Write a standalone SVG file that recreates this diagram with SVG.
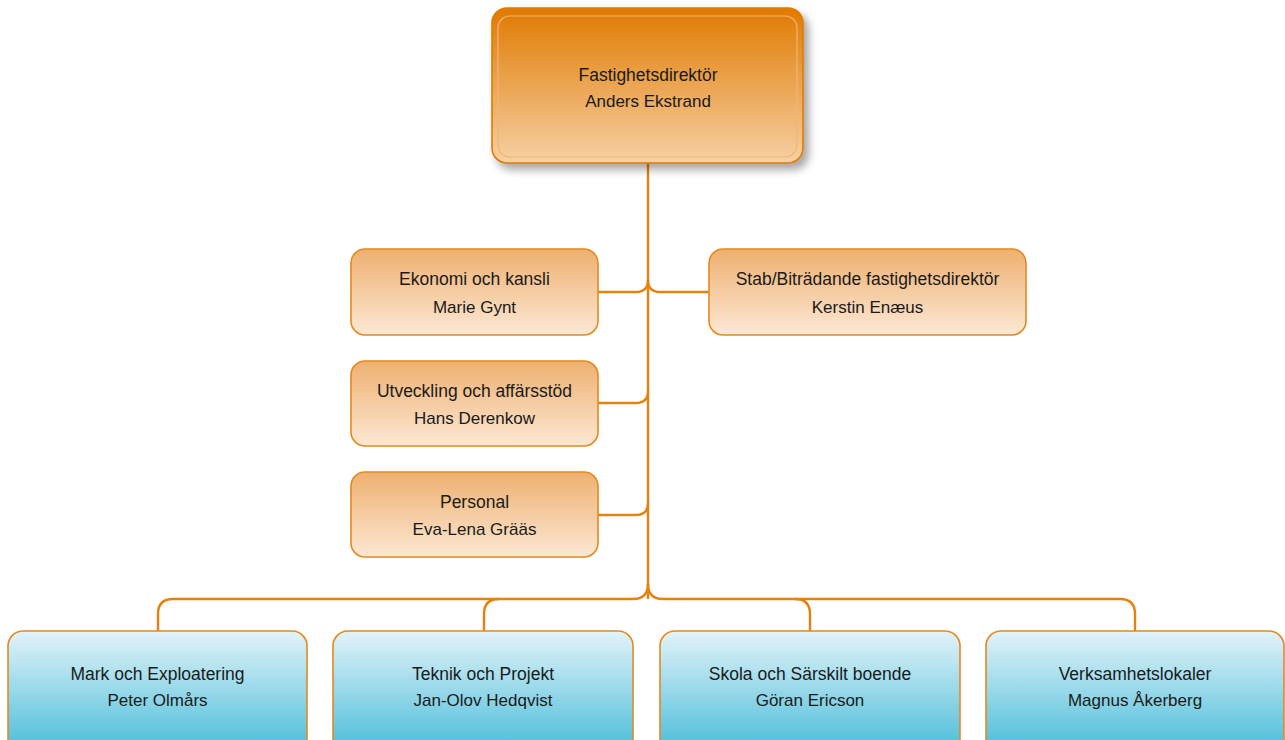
<svg xmlns="http://www.w3.org/2000/svg" width="1285" height="740" viewBox="0 0 1285 740">
<defs>
<linearGradient id="gTop" x1="0" y1="0" x2="0" y2="1">
<stop offset="0" stop-color="#E07A00"/>
<stop offset="1" stop-color="#F6D0A4"/>
</linearGradient>
<linearGradient id="gSide" x1="0" y1="0" x2="0" y2="1">
<stop offset="0" stop-color="#EEB070"/>
<stop offset="1" stop-color="#FCE8D4"/>
</linearGradient>
<linearGradient id="gBlue" x1="0" y1="0" x2="0" y2="1">
<stop offset="0" stop-color="#E3F3F9"/>
<stop offset="1" stop-color="#44BBD8"/>
</linearGradient>
<filter id="shadow" x="-10%" y="-10%" width="130%" height="140%">
<feDropShadow dx="5" dy="6" stdDeviation="4" flood-color="#000" flood-opacity="0.35"/>
</filter>
</defs>
<style>
.box{stroke:#E5891E;stroke-width:1.6}
.side{fill:url(#gSide)}
.blue{fill:url(#gBlue)}
.conn{fill:none;stroke:#E5820F;stroke-width:2.4}
text{font-family:"Liberation Sans",Arial,sans-serif;font-size:17px;fill:#1a1a1a;text-anchor:middle}
.t{font-size:17.5px}
</style>
<rect width="1285" height="740" fill="#fff"/>
<g id="connectors">
<path class="conn" d="M648,163 V599"/>
<path class="conn" d="M598,292 H636 Q648,292 648,280"/>
<path class="conn" d="M709,292 H660 Q648,292 648,280"/>
<path class="conn" d="M598,403 H636 Q648,403 648,391"/>
<path class="conn" d="M598,515 H636 Q648,515 648,503"/>
<path class="conn" d="M158,631 V614 Q158,599 173,599 H633 Q648,599 648,584"/>
<path class="conn" d="M1135,631 V614 Q1135,599 1120,599 H663 Q648,599 648,584"/>
<path class="conn" d="M484,631 V614 Q484,599 499,599"/>
<path class="conn" d="M810,631 V614 Q810,599 795,599"/>
</g>
<g id="n-director">
<rect x="492" y="8" width="311" height="155" rx="15" fill="url(#gTop)" stroke="#E07A00" stroke-width="1.6" filter="url(#shadow)"/>
<rect x="498" y="16" width="299" height="141" rx="12" fill="none" stroke="#F2B574" stroke-width="1.2"/>
<text class="t" x="648" y="81">Fastighetsdirektör</text>
<text x="648" y="107">Anders Ekstrand</text>
</g>
<g id="n-ekonomi">
<rect class="box side" x="351" y="249" width="247" height="86" rx="14"/>
<text class="t" x="474.5" y="285">Ekonomi och kansli</text>
<text x="474.5" y="313">Marie Gynt</text>
</g>
<g id="n-stab">
<rect class="box side" x="709" y="249" width="317" height="86" rx="14"/>
<text class="t" x="867.5" y="285">Stab/Biträdande fastighetsdirektör</text>
<text x="867.5" y="313">Kerstin Enæus</text>
</g>
<g id="n-utveckling">
<rect class="box side" x="351" y="361" width="247" height="85" rx="14"/>
<text class="t" x="474.5" y="397">Utveckling och affärsstöd</text>
<text x="474.5" y="424">Hans Derenkow</text>
</g>
<g id="n-personal">
<rect class="box side" x="351" y="472" width="247" height="85" rx="14"/>
<text class="t" x="474.5" y="508">Personal</text>
<text x="474.5" y="535">Eva-Lena Grääs</text>
</g>
<g id="n-mark">
<rect class="box blue" x="8" y="631" width="299" height="125" rx="15"/>
<text class="t" x="157.5" y="680">Mark och Exploatering</text>
<text x="157.5" y="706">Peter Olmårs</text>
</g>
<g id="n-teknik">
<rect class="box blue" x="333" y="631" width="300" height="125" rx="15"/>
<text class="t" x="483" y="680">Teknik och Projekt</text>
<text x="483" y="706">Jan-Olov Hedqvist</text>
</g>
<g id="n-skola">
<rect class="box blue" x="660" y="631" width="300" height="125" rx="15"/>
<text class="t" x="810" y="680">Skola och Särskilt boende</text>
<text x="810" y="706">Göran Ericson</text>
</g>
<g id="n-verksamhet">
<rect class="box blue" x="986" y="631" width="298" height="125" rx="15"/>
<text class="t" x="1135" y="680">Verksamhetslokaler</text>
<text x="1135" y="706">Magnus Åkerberg</text>
</g>
</svg>
